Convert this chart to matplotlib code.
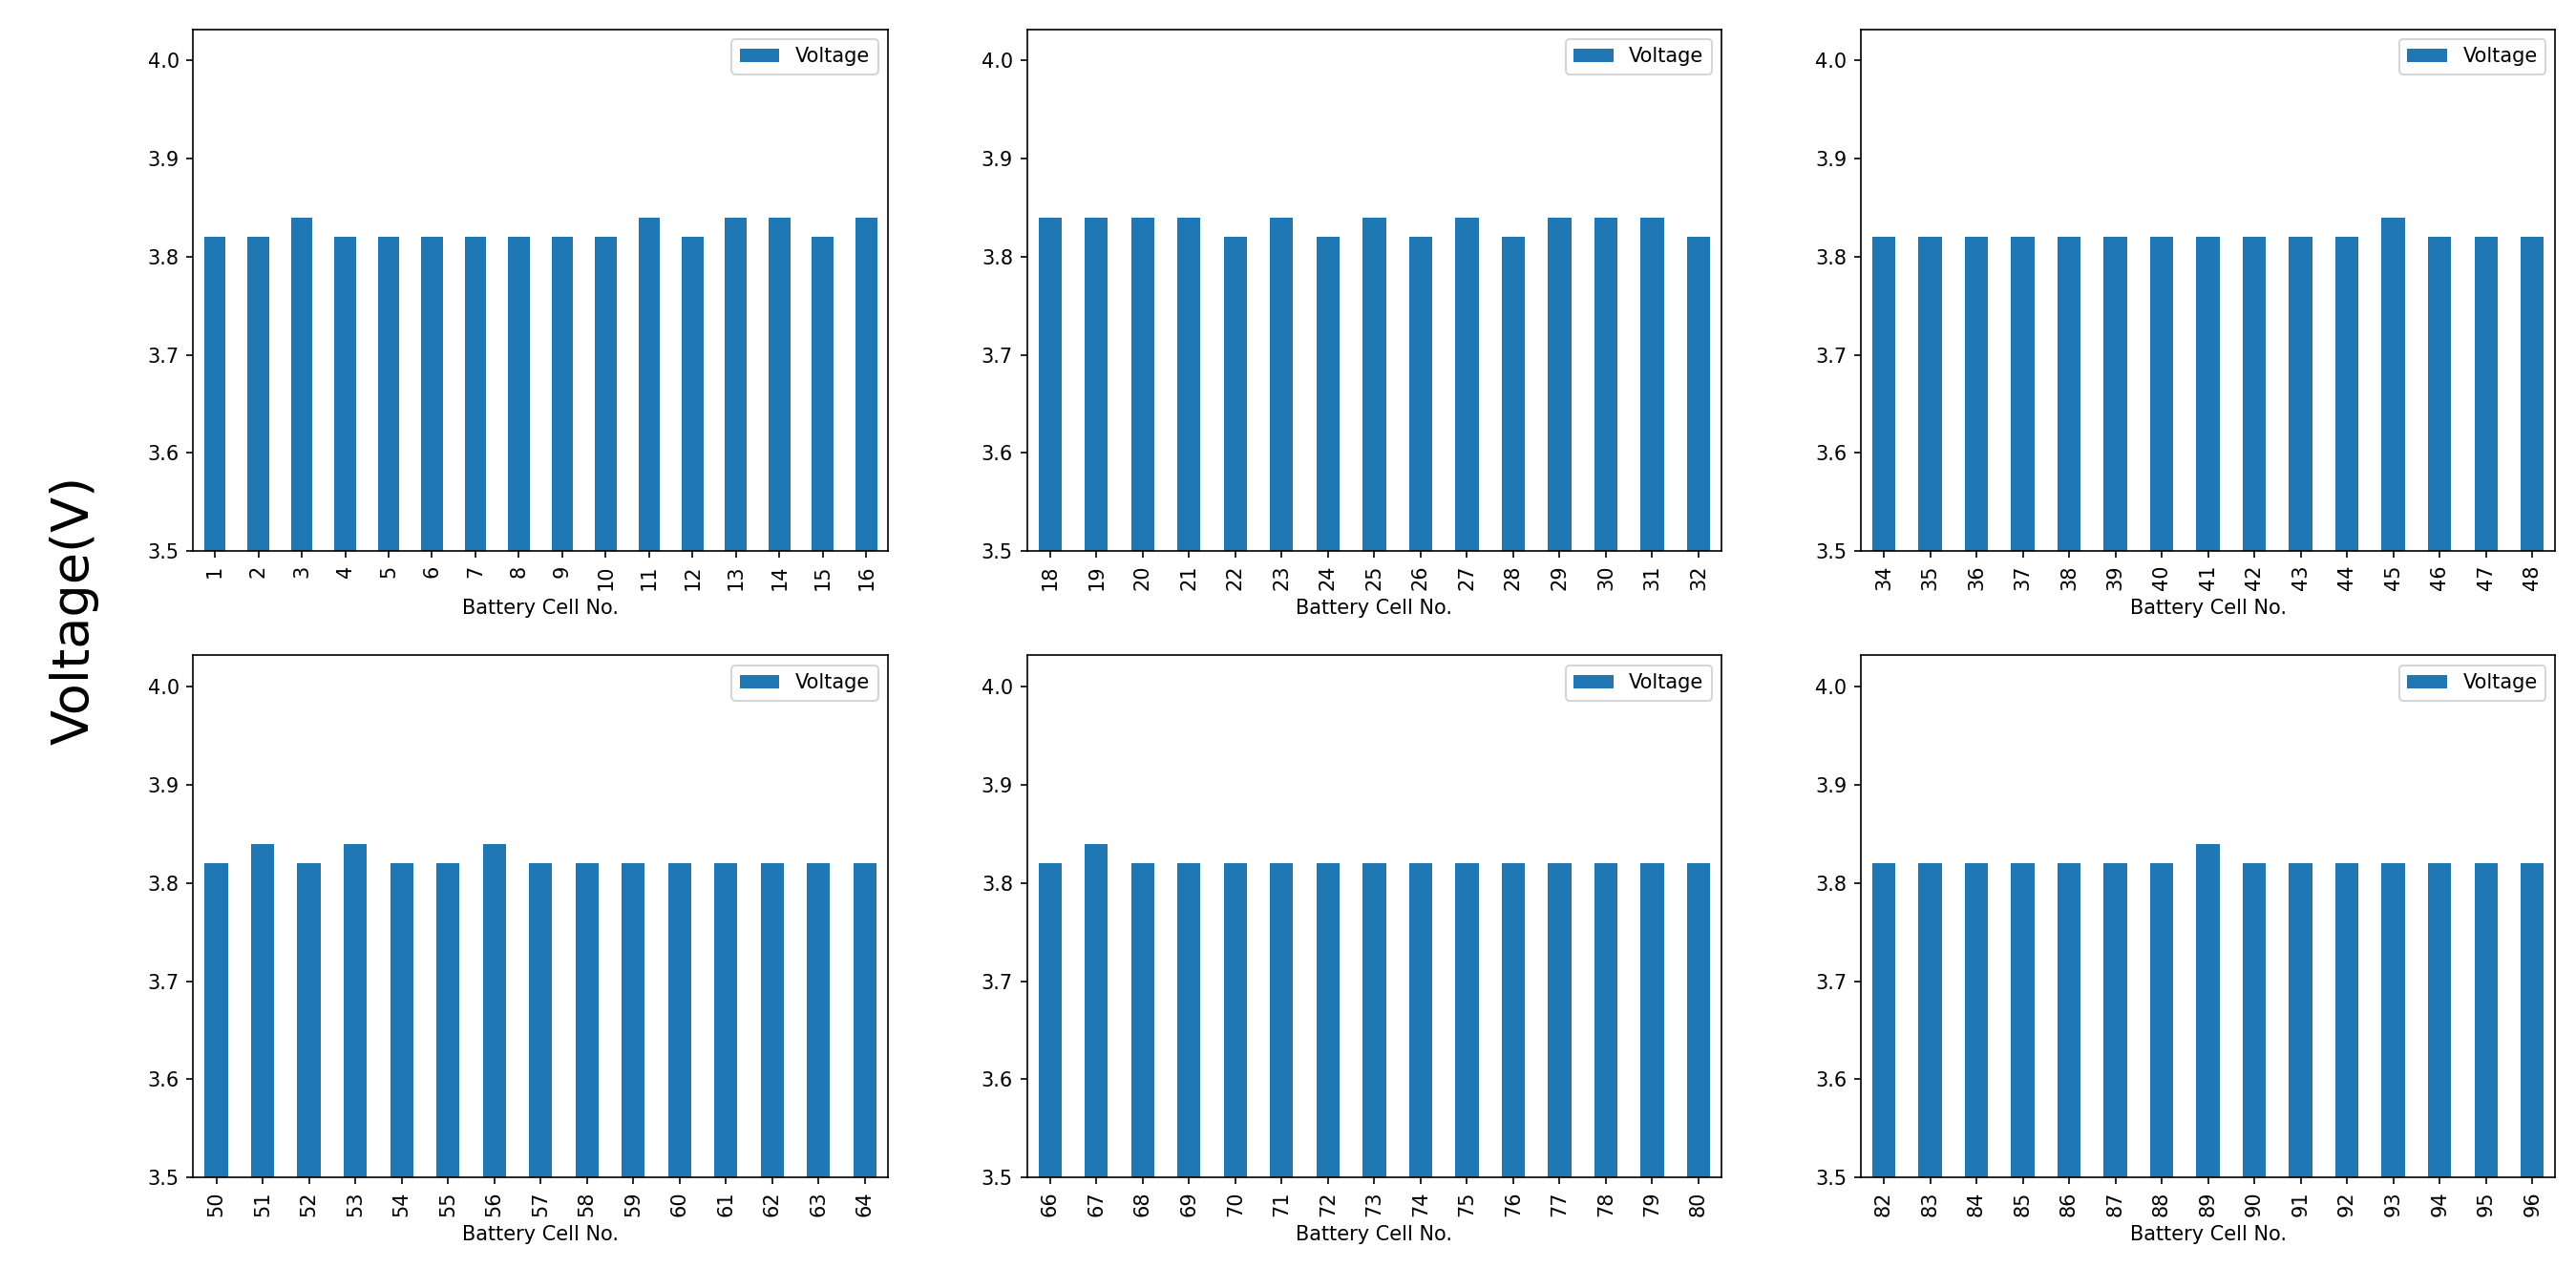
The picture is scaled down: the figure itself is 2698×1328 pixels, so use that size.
import numpy as np
import pandas as pd
import matplotlib
matplotlib.use('Agg')
import matplotlib.pyplot as plt

# Cell voltages per group
cells_1 = list(range(1, 17))
volts_1 = [3.82, 3.82, 3.84, 3.82, 3.82, 3.82, 3.82, 3.82,
           3.82, 3.82, 3.84, 3.82, 3.84, 3.84, 3.82, 3.84]

cells_2 = list(range(18, 33))
volts_2 = [3.84, 3.84, 3.84, 3.84, 3.82, 3.84, 3.82, 3.84,
           3.82, 3.84, 3.82, 3.84, 3.84, 3.84, 3.82]

cells_3 = list(range(34, 49))
volts_3 = [3.82, 3.82, 3.82, 3.82, 3.82, 3.82, 3.82, 3.82,
           3.82, 3.82, 3.82, 3.84, 3.82, 3.82, 3.82]

cells_4 = list(range(50, 65))
volts_4 = [3.82, 3.84, 3.82, 3.84, 3.82, 3.82, 3.84, 3.82,
           3.82, 3.82, 3.82, 3.82, 3.82, 3.82, 3.82]

cells_5 = list(range(66, 81))
volts_5 = [3.82, 3.84, 3.82, 3.82, 3.82, 3.82, 3.82, 3.82,
           3.82, 3.82, 3.82, 3.82, 3.82, 3.82, 3.82]

cells_6 = list(range(82, 97))
volts_6 = [3.82, 3.82, 3.82, 3.82, 3.82, 3.82, 3.82, 3.84,
           3.82, 3.82, 3.82, 3.82, 3.82, 3.82, 3.82]

groups = [(cells_1, volts_1), (cells_2, volts_2), (cells_3, volts_3),
          (cells_4, volts_4), (cells_5, volts_5), (cells_6, volts_6)]

fig, axes = plt.subplots(2, 3, figsize=(2698 / 150, 1328 / 150), dpi=150)
fig.subplots_adjust(left=0.075, right=0.992, top=0.977, bottom=0.0715,
                    wspace=0.2, hspace=0.2)

for ax, (cells, volts) in zip(axes.flat, groups):
    df = pd.DataFrame({'Voltage': volts}, index=cells)
    df.plot.bar(ax=ax)
    ax.set_ylim(bottom=3.5)
    ax.set_xlabel('Battery Cell No.')
    ax.legend(loc='upper right')

fig.supylabel('Voltage(V)', x=0.019, y=0.519, fontsize=26)

plt.savefig('out.png', dpi=150)
plt.close()
